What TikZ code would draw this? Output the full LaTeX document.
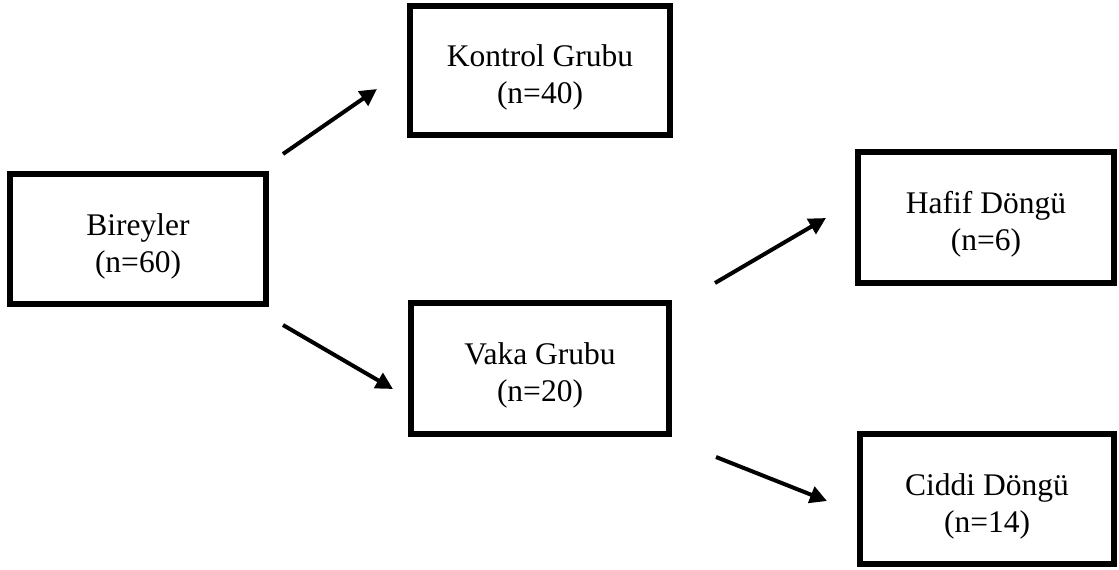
\documentclass[tikz,border=0pt]{standalone}
\usepackage{fontspec}
\setmainfont{Liberation Serif}
\usetikzlibrary{arrows.meta}
\newcommand{\toppad}{\rule{0pt}{36pt}}
\begin{document}
\begin{tikzpicture}[x=1pt,y=-1pt,
  box/.style={draw=black, line width=6pt, rectangle, align=center,
    font=\fontsize{31.5}{37}\selectfont, inner sep=0pt},
  arr/.style={line width=4pt, -{Triangle[length=17pt,width=17pt]}}]
\useasboundingbox (0,0) rectangle (1119,570);
\node[box, minimum width=256pt, minimum height=130pt] (bir) at (138,239) {\toppad Bireyler\\(n=60)};
\node[box, minimum width=260pt, minimum height=129pt] (kon) at (540,70.5) {\toppad Kontrol Grubu\\(n=40)};
\node[box, minimum width=258pt, minimum height=131pt] (vak) at (540,368.5) {\toppad Vaka Grubu\\(n=20)};
\node[box, minimum width=256pt, minimum height=131pt] (haf) at (986,217.5) {\toppad Hafif Döngü\\(n=6)};
\node[box, minimum width=254pt, minimum height=130pt] (cid) at (987,499) {\toppad Ciddi Döngü\\(n=14)};
\coordinate (a1s) at (283,154); \coordinate (a1e) at (377,89);
\coordinate (a2s) at (283,325); \coordinate (a2e) at (393,389);
\coordinate (a3s) at (715,283); \coordinate (a3e) at (826,218);
\coordinate (a4s) at (716,457); \coordinate (a4e) at (827,501);
\draw[arr] (a1s) -- (a1e);
\draw[arr] (a2s) -- (a2e);
\draw[arr] (a3s) -- (a3e);
\draw[arr] (a4s) -- (a4e);
\end{tikzpicture}
\end{document}
